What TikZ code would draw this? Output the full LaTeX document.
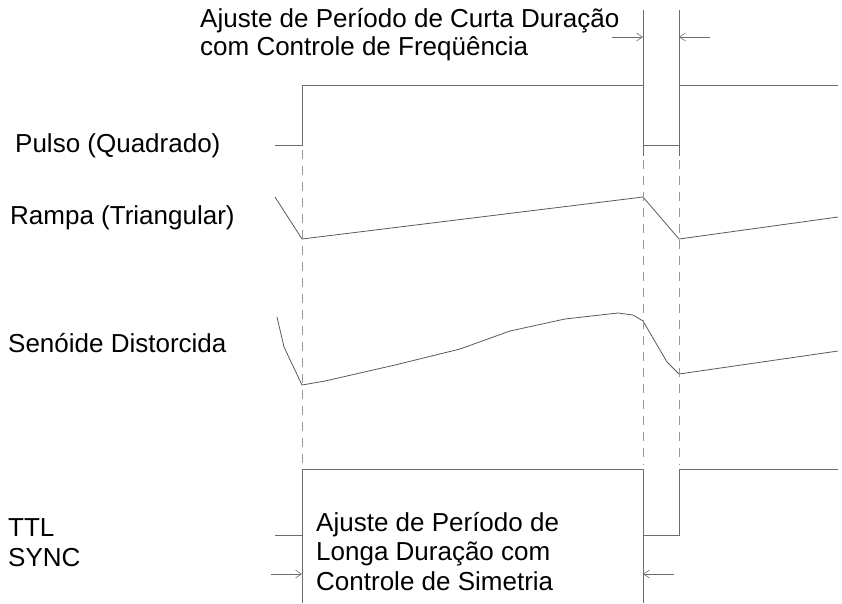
\documentclass[tikz,border=0pt]{standalone}
\usepackage{fontspec}
\setmainfont{Liberation Sans}
\usepackage{tikz}
\usetikzlibrary{positioning,%
  arrows.meta,%
  calc
}

\begin{document}
\begin{tikzpicture}[x=1pt,y=-1pt,
    wave/.style={draw=gray!85!black, line width=0.8pt},
    sig/.style={draw=black!65, line width=0.8pt},
    guide/.style={draw=gray!80, line width=0.8pt, dash pattern=on 9pt off 7pt},
    dim/.style={draw=gray!85!black, line width=0.6pt, -{Straight Barb[length=6pt,width=8pt]}},
    lbl/.style={anchor=base west, inner sep=0pt, font=\fontsize{26}{29.5}\selectfont, align=left}]
            \useasboundingbox (0,0) rectangle (842,603);

            % pulso quadrado
            \draw [wave] (275,145) -- (302,145) -- (302,85) -- (643,85) -- (643,145) -- (679,145) -- (679,85) -- (838,85);
            \draw [wave] (643,85) -- (643,10);
            \draw [wave] (679,85) -- (679,10);
            \draw [wave] (643,145) -- (643,156);
            \draw [wave] (679,145) -- (679,156);

            % rampa
            \draw [sig] (275,197) -- (302,239) -- (643,197) -- (679,239) -- (838,217);

            % senoide distorcida
            \draw [sig] (277,317) -- (284,347) -- (302,385) -- (325,381) -- (395,365) -- (460,349)
                -- (510,331) -- (565,319) -- (618,313) -- (633,315) -- (643,321) -- (667,362)
                -- (679,374) -- (838,351);

            % ttl sync
            \draw [wave] (275,535) -- (302,535) -- (302,469) -- (643,469) -- (643,535) -- (679,535) -- (679,469) -- (838,469);
            \draw [wave] (302,535) -- (302,603);
            \draw [wave] (643,535) -- (643,603);

            % linhas guia
            \draw [guide] (302,150) -- (302,465);
            \draw [guide] (643,160) -- (643,465);
            \draw [guide] (679,160) -- (679,465);

            % cotas
            \coordinate (c1) at (612,37);
            \coordinate (c2) at (710,37);
            \coordinate (l1) at (271,574);
            \coordinate (l2) at (674,574);
            \draw [dim] (c1) -- (643,37);
            \draw [dim] (c2) -- (679,37);
            \draw [dim] (l1) -- (302,574);
            \draw [dim] (l2) -- (643,574);

            % textos (base = ultima linha)
            \node [lbl, font=\fontsize{26}{28}\selectfont] (curta) at (200,55) {Ajuste de Período de Curta Duração\\com Controle de Freqüência};
            \node [lbl] (pulso) at (15,152) {Pulso (Quadrado)};
            \node [lbl] (rampa) at (10,224) {Rampa (Triangular)};
            \node [lbl] (senoide) at (8,352) {Senóide Distorcida};
            \node [lbl] (ttl) at (8,566) {TTL\\SYNC};
            \node [lbl] (longa) at (316,590) {Ajuste de Período de\\Longa Duração com\\Controle de Simetria};
        \end{tikzpicture}
\end{document}
